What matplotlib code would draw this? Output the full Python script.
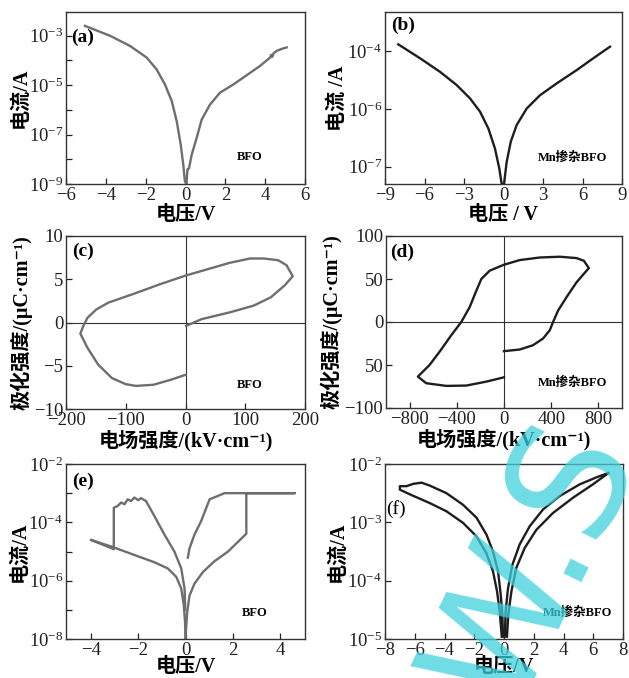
import numpy as np
import matplotlib
matplotlib.use('Agg')
import matplotlib.pyplot as plt
from matplotlib.ticker import FixedLocator, FixedFormatter

plt.rcParams['font.family'] = ['Liberation Serif', 'Noto Sans CJK SC', 'DejaVu Sans']
plt.rcParams['mathtext.fontset'] = 'custom'
plt.rcParams['mathtext.rm'] = 'Liberation Serif'
plt.rcParams['mathtext.it'] = 'Liberation Serif:italic'
plt.rcParams['mathtext.bf'] = 'Liberation Serif:bold'

# ---- data (current stored as log10 of current in A) ----
# (a) BFO I-V
a_V = [-5.05, -3.79, -2.79, -1.95, -1.45, -1.03, -0.69, -0.44, -0.24, -0.11, -0.03, 0.05,
       0.10, 0.14, 0.18, 0.31, 0.56, 0.81, 1.23, 1.73, 2.40, 3.08, 3.74, 4.25, 4.30, 4.36, 4.42, 4.58, 4.80, 5.08]
a_logI = [-2.61, -3.01, -3.42, -3.89, -4.37, -4.98, -5.65, -6.47, -7.41, -8.23, -8.90, -9.0,
          -8.4, -8.4, -8.35, -7.82, -7.14, -6.40, -5.79, -5.31, -4.98, -4.60, -4.23, -3.89, -3.78, -3.86, -3.72, -3.62, -3.55, -3.48]

# (b) Mn-doped BFO I-V
b_V = [-7.99, -6.34, -4.82, -3.55, -2.54, -1.78, -1.15, -0.65, -0.32, -0.14, 0.04,
       0.24, 0.55, 1.00, 1.76, 2.77, 4.04, 5.56, 6.82, 8.09]
b_logI = [-3.77, -4.25, -4.72, -5.18, -5.64, -6.10, -6.68, -7.37, -8.06, -8.6, -8.6,
          -7.84, -7.14, -6.56, -5.99, -5.53, -5.12, -4.66, -4.25, -3.85]

# (c) BFO P-E loop
c_E = [1, 27, 74, 114, 143, 166, 179.5, 169, 155, 131, 108, 74, 39, 0, -42, -88.5, -129, -149,
       -164, -171, -176, -164, -146, -123, -100, -83, -54, -25, 0]
c_P = [-0.39, 0.39, 1.17, 1.95, 2.92, 4.29, 5.35, 6.63, 7.2, 7.4, 7.4, 6.9, 6.2, 5.42, 4.44, 3.27, 2.3, 1.52,
       0.55, -0.39, -1.29, -2.93, -4.88, -6.43, -7.13, -7.33, -7.2, -6.63, -6.05]

# (d) Mn-doped BFO P-E loop
d_E = [0, 133, 246, 331, 388, 416, 459, 530, 615, 719, 677, 615, 473, 303, 133, 0, -121, -192, -234,
       -291, -362, -447, -546, -631, -730, -659, -489, -319, -149, 0]
d_P = [-33.9, -32, -27, -19.2, -9.6, 0, 13.5, 28.9, 46.2, 62.7, 71.2, 74.3, 75.9, 75, 72, 66.6, 59.7, 50, 36.6,
       17.3, 0, -15.4, -34.6, -50, -63.5, -71.2, -74.3, -73.9, -69.3, -64.3]

# (e) BFO bipolar I-V
e_V_neg = [0.0, -0.02, -0.07, -0.18, -0.39, -0.75, -1.31, -2.16, -3.03, -4.0, -3.03,
           -3.03, -3.03, -2.87, -2.72, -2.58, -2.44, -2.30, -2.16, -2.0, -1.88, -1.67,
           -1.31, -0.89, -0.47, -0.18, -0.04, -0.01]
e_logI_neg = [-8.0, -7.4, -6.85, -6.27, -5.87, -5.58, -5.37, -5.12, -4.86, -4.6, -4.92,
              -3.50, -3.50, -3.44, -3.32, -3.38, -3.21, -3.27, -3.15, -3.24, -3.17, -3.27,
              -3.79, -4.42, -5.00, -5.58, -6.27, -7.0]
e_V_pos = [0.0, 0.07, 0.17, 0.38, 0.74, 1.23, 1.80, 2.57, 2.57, 4.62, 1.65, 1.02, 0.88, 0.66, 0.38, 0.17, 0.10]
e_logI_pos = [-7.95, -7.09, -6.51, -6.10, -5.70, -5.33, -5.00, -4.39, -3.0, -3.0, -3.0, -3.21, -3.5, -3.96,
              -4.42, -4.89, -5.21]

# (f) Mn-doped BFO bipolar I-V
f_V_left = [-0.07, -0.11, -0.22, -0.40, -0.74, -1.18, -1.85, -2.75, -3.87, -4.99, -5.54, -6.10, -6.55, -7.0,
            -7.0, -6.33, -4.99, -3.87, -2.75, -1.85, -1.18, -0.74, -0.47, -0.29, -0.15]
f_logI_left = [-4.96, -4.58, -4.24, -3.84, -3.50, -3.21, -2.92, -2.70, -2.50, -2.37, -2.32, -2.34, -2.38, -2.38,
               -2.44, -2.52, -2.67, -2.81, -3.01, -3.24, -3.53, -3.84, -4.18, -4.53, -4.96]
f_V_right = [0.05, 0.11, 0.27, 0.56, 1.05, 1.72, 2.62, 3.74, 5.08, 6.20, 7.05,
             5.97, 4.63, 3.29, 2.17, 1.39, 0.83, 0.50, 0.29, 0.20]
f_logI_right = [-4.96, -4.53, -4.13, -3.73, -3.38, -3.07, -2.78, -2.55, -2.35, -2.23, -2.15,
                -2.35, -2.58, -2.84, -3.13, -3.44, -3.78, -4.18, -4.58, -4.96]

gray = '#6e6e6e'
dark = '#1e1e1e'
W, H = 629, 678
fig = plt.figure(figsize=(W / 100, H / 100), dpi=100)


def make_ax(l, r, t, b):
    ax = fig.add_axes([l / W, 1 - b / H, (r - l) / W, (b - t) / H])
    ax.tick_params(direction='in', length=4, width=0.9, labelsize=13.5, pad=2,
                   top=False, right=False, colors='#222222')
    for s in ax.spines.values():
        s.set_linewidth(1.0)
        s.set_color('#333333')
    return ax


def log_ticks(ax, decades, labeled, labels=None):
    ax.yaxis.set_major_locator(FixedLocator([10.0 ** d for d in decades]))
    ax.yaxis.set_minor_locator(FixedLocator([]))
    if labels is None:
        labels = ['$10^{%d}$' % d if d in labeled else '' for d in decades]
    ax.yaxis.set_major_formatter(FixedFormatter(labels))


lab_kw = dict(fontsize=14.5, fontweight='bold')
E_label = '电场强度/(kV·cm⁻¹)'
P_label = '极化强度/(μC·cm⁻¹)'

# (a)
ax = make_ax(66, 305, 12, 184)
ax.semilogy(a_V, 10.0 ** np.array(a_logI), color=gray, lw=1.7)
ax.set_xlim(-6, 6)
ax.set_ylim(1e-9, 10 ** -2.05)
ax.set_xticks(range(-6, 7, 2))
log_ticks(ax, range(-9, -2), [-9, -7, -5, -3])
ax.set_xlabel('电压/V', labelpad=1, **lab_kw)
ax.set_ylabel('电流/A', labelpad=-1, **lab_kw)
ax.text(0.07, 0.85, '(a)', transform=ax.transAxes, fontsize=14, fontweight='bold', ha='center', va='center')
ax.text(0.77, 0.157, 'BFO', transform=ax.transAxes, fontsize=9, fontweight='bold', ha='center', va='center')

# (b)
ax = make_ax(385, 622, 12, 184)
ax.semilogy(b_V, 10.0 ** np.array(b_logI), color=dark, lw=1.7)
ax.set_xlim(-9, 9)
ax.set_ylim(10 ** -8.6, 10 ** -2.65)
ax.set_xticks(range(-9, 10, 3))
log_ticks(ax, [-8, -6, -4], None, ['$10^{-7}$', '$10^{-6}$', '$10^{-4}$'])
ax.set_xlabel('电压 / V', labelpad=1, **lab_kw)
ax.set_ylabel('电流 /A', labelpad=0, **lab_kw)
ax.text(0.076, 0.92, '(b)', transform=ax.transAxes, fontsize=14, fontweight='bold', ha='center', va='center')
ax.text(0.79, 0.15, 'Mn掺杂BFO', transform=ax.transAxes, fontsize=9, fontweight='bold', ha='center', va='center')

# (c)
ax = make_ax(66, 305, 236, 409)
ax.axhline(0, color='#333333', lw=0.8)
ax.axvline(0, color='#333333', lw=0.8)
ax.plot(c_E, c_P, color=gray, lw=1.7)
ax.set_xlim(-200, 200)
ax.set_ylim(-10, 10)
ax.set_xticks([-200, -100, 0, 100, 200])
ax.set_yticks([-10, -5, 0, 5, 10])
ax.set_xlabel(E_label, labelpad=1, **lab_kw)
ax.set_ylabel(P_label, labelpad=1, **lab_kw)
ax.text(0.07, 0.91, '(c)', transform=ax.transAxes, fontsize=14, fontweight='bold', ha='center', va='center')
ax.text(0.77, 0.14, 'BFO', transform=ax.transAxes, fontsize=9, fontweight='bold', ha='center', va='center')

# (d)
ax = make_ax(386, 622, 236, 408)
ax.axhline(0, color='#333333', lw=0.8)
ax.axvline(0, color='#333333', lw=0.8)
ax.plot(d_E, d_P, color=dark, lw=1.7)
ax.set_xlim(-1000, 1000)
ax.set_ylim(-100, 100)
ax.set_xticks([-800, -400, 0, 400, 800])
ax.yaxis.set_major_locator(FixedLocator([-100, -50, 0, 50, 100]))
ax.yaxis.set_major_formatter(FixedFormatter(['\u2212100', '50', '0', '50', '100']))
ax.set_xlabel(E_label, labelpad=1, **lab_kw)
ax.set_ylabel(P_label, labelpad=1, **lab_kw)
ax.text(0.068, 0.907, '(d)', transform=ax.transAxes, fontsize=14, fontweight='bold', ha='center', va='center')
ax.text(0.79, 0.145, 'Mn掺杂BFO', transform=ax.transAxes, fontsize=9, fontweight='bold', ha='center', va='center')

# (e)
ax = make_ax(66, 305, 464, 639)
ax.semilogy(e_V_neg, 10.0 ** np.array(e_logI_neg), color=gray, lw=1.7)
ax.semilogy(e_V_pos, 10.0 ** np.array(e_logI_pos), color=gray, lw=1.7)
ax.set_xlim(-5.05, 5.05)
ax.set_ylim(1e-8, 1e-2)
ax.set_xticks(range(-4, 5, 2))
log_ticks(ax, range(-8, -1), [-8, -6, -4, -2])
ax.set_xlabel('电压/V', labelpad=-1, **lab_kw)
ax.set_ylabel('电流/A', labelpad=-1, **lab_kw)
ax.text(0.07, 0.9, '(e)', transform=ax.transAxes, fontsize=14, fontweight='bold', ha='center', va='center')
ax.text(0.79, 0.15, 'BFO', transform=ax.transAxes, fontsize=9, fontweight='bold', ha='center', va='center')

# (f)
ax = make_ax(385, 623, 464, 639)
ax.semilogy(f_V_left, 10.0 ** np.array(f_logI_left), color=dark, lw=1.7)
ax.semilogy(f_V_right, 10.0 ** np.array(f_logI_right), color=dark, lw=1.7)
ax.set_xlim(-8, 8)
ax.set_ylim(1e-5, 1e-2)
ax.set_xticks(range(-8, 9, 2))
log_ticks(ax, range(-5, -1), [-5, -4, -3, -2])
ax.set_xlabel('电压/V', labelpad=-1, **lab_kw)
ax.set_ylabel('电流/A', labelpad=0, **lab_kw)
ax.text(0.045, 0.74, '(f)', transform=ax.transAxes, fontsize=14, ha='center', va='center')
ax.text(0.81, 0.15, 'Mn掺杂BFO', transform=ax.transAxes, fontsize=9, fontweight='bold', ha='center', va='center')

# watermark
fig.text(0.85, 0.165, 'W.S', rotation=64, color='#3fd0dc', alpha=0.75, fontsize=115,
         family='DejaVu Sans', ha='center', va='center', zorder=10)

fig.savefig('out.png', dpi=100)
